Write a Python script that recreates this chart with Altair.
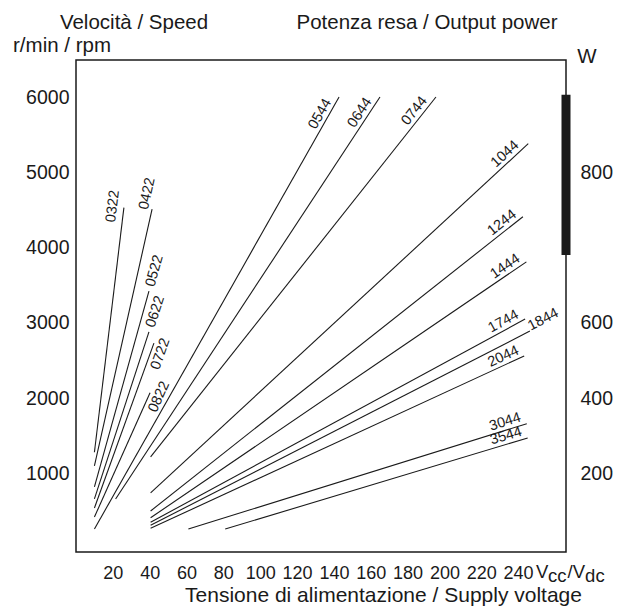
import math
import altair as alt
import pandas as pd

# ---------------- data ----------------
series = ["0322", "0422", "0522", "0622", "0722", "0822",
          "0544", "0644", "0744", "1044", "1244", "1444",
          "1744", "1844", "2044", "3044", "3544"]
v_start = [10, 10, 10, 10, 10, 10,
           10, 21.5, 40.5, 40.5, 40.5, 40.5,
           40.5, 40.5, 40.5, 61, 81]
rpm_start = [1280, 1100, 820, 660, 540, 420,
             260, 660, 1220, 740, 500, 410,
             350, 310, 270, 260, 260]
v_end = [26, 41.3, 39.6, 39.6, 42.3, 40.2,
         142.8, 165, 195.4, 245.5, 242.6, 244.5,
         243.8, 246.4, 243.3, 244.7, 245.2]
rpm_end = [4530, 4510, 3420, 2880, 2730, 2070,
           6000, 6000, 6000, 5380, 4410, 3810,
           3050, 2890, 2560, 1660, 1470]

x_ticks = [20, 40, 60, 80, 100, 120, 140, 160, 180, 200, 220, 240]
y_ticks = [1000, 2000, 3000, 4000, 5000, 6000]
power_at_rpm = [1000, 2000, 3000, 5000]
power_labels = ["200", "400", "600", "800"]
power_band = [3900, 6030]
unit_parts = ["V", "cc", "/V", "dc"]
unit_sub = [False, True, False, True]

# ---------------- layout / style ----------------
W, H = 490, 492
X_DOM = [0, 266]
Y_DOM = [-45, 6492]
FONT = "Liberation Sans"
INK = "#1a1a1a"
TICK_FS = 18
TITLE_FS = 20.5
LAB_FS = 14.5

kx = W / (X_DOM[1] - X_DOM[0])
ky = H / (Y_DOM[1] - Y_DOM[0])
angles = []
for a, b, c, d in zip(v_start, rpm_start, v_end, rpm_end):
    deg = math.degrees(math.atan2((d - b) * ky, (c - a) * kx))
    angles.append((360 - deg) % 360)

lines_df = pd.DataFrame({"series": series, "v0": v_start, "r0": rpm_start,
                         "v1": v_end, "r1": rpm_end, "ang": angles})

xs = alt.Scale(domain=X_DOM, nice=False, zero=False)
ys = alt.Scale(domain=Y_DOM, nice=False, zero=False)

lines = alt.Chart(lines_df).mark_rule(color=INK, strokeWidth=1.1).encode(
    x=alt.X("v0:Q", scale=xs, axis=alt.Axis(
        values=x_ticks, format="d", labelBaseline="alphabetic", labelPadding=26,
        labelFontSize=TICK_FS, labelFlush=False, labelOverlap=False,
        title="Tensione di alimentazione / Supply voltage",
        titleFontSize=21, titleFontWeight="normal",
        titleX=307, titleY=49, titleBaseline="alphabetic", titleAlign="center")),
    x2="v1",
    y=alt.Y("r0:Q", scale=ys, axis=alt.Axis(
        orient="left", values=y_ticks, format="d", labelPadding=7, title=None,
        labelFontSize=19.5, labelFlush=False, labelOverlap=False)),
    y2="r1",
)

# label placement styles (relative to the upper end of each line)
style_of = {
    "0322": ("center", "bottom", 0, -4),
    "0422": ("left", "bottom", -2, -1),
    "0522": ("left", "middle", 5, 0),
    "0622": ("left", "middle", 5, 0),
    "0722": ("center", "top", -8, 3),
    "0822": ("center", "top", 0, 3),
    "0544": ("right", "bottom", -8, -1),
    "0644": ("right", "bottom", -8, -1),
    "0744": ("right", "bottom", -8, -1),
    "1044": ("right", "bottom", -8, -1),
    "1244": ("right", "bottom", -4, -1),
    "1444": ("right", "bottom", -4, -1),
    "1744": ("right", "bottom", -4, -1),
    "1844": ("left", "alphabetic", 1, 0),
    "2044": ("right", "bottom", -3, -1),
    "3044": ("right", "bottom", -4, -1),
    "3544": ("right", "bottom", -4, -1),
}
groups = {}
for s in series:
    groups.setdefault(style_of[s], []).append(s)

label_layers = []
for (al, bl, dx, dy), members in groups.items():
    sub = lines_df[lines_df["series"].isin(members)]
    label_layers.append(
        alt.Chart(sub).mark_text(font=FONT, fontSize=LAB_FS, color=INK,
                                 align=al, baseline=bl, dx=dx, dy=dy).encode(
            x=alt.X("v1:Q", scale=xs, axis=None),
            y=alt.Y("r1:Q", scale=ys, axis=None),
            angle=alt.Angle("ang:Q", scale=None),
            text="series:N",
        )
    )

# right power axis + thick band
expr = "''"
for pos, lab in reversed(list(zip(power_at_rpm, power_labels))):
    expr = f"datum.value == {pos} ? '{lab}' : {expr}"

band_df = pd.DataFrame({"v": [X_DOM[1]], "r0": [power_band[0]], "r1": [power_band[1]]})
band = alt.Chart(band_df).mark_rule(color=INK, strokeWidth=9, strokeCap="butt").encode(
    x=alt.X("v:Q", scale=xs, axis=None),
    y=alt.Y("r0:Q", scale=ys, axis=alt.Axis(
        orient="right", values=power_at_rpm, labelExpr=expr, labelPadding=14,
        labelFontSize=19.5, title=None, labelFlush=False, labelOverlap=False)),
    y2="r1",
)

# unit after the "240" tick label: V_cc / V_dc
unit_dx = [18, 30, 49.5, 67]
unit_layers = []
for part, is_sub, ddx in zip(unit_parts, unit_sub, unit_dx):
    udf = pd.DataFrame({"v": [x_ticks[-1]], "t": [part]})
    unit_layers.append(
        alt.Chart(udf).mark_text(font=FONT, fontSize=TICK_FS + 0.5, color=INK,
                                 align="left", baseline="alphabetic", dx=ddx).encode(
            x=alt.X("v:Q", scale=xs, axis=None),
            y=alt.value(H + 26 + (4 if is_sub else 0)),
            text="t:N",
        )
    )

# header texts
def header(txt, px, py, align="center"):
    return alt.Chart(pd.DataFrame({"t": [txt]})).mark_text(
        font=FONT, fontSize=TITLE_FS, color=INK, align=align, baseline="alphabetic"
    ).encode(x=alt.value(px), y=alt.value(py), text="t:N")

headers = [
    header("Velocità / Speed", 58, -31),
    header("r/min / rpm", -14, -8),
    header("Potenza resa / Output power", 351, -31),
    header("W", 511, 3),
]

chart = alt.layer(lines, band, *label_layers, *unit_layers, *headers).resolve_axis(
    x="independent", y="independent"
).properties(
    width=W, height=H,
    autosize=alt.AutoSizeParams(type="none"),
    padding={"left": 68, "top": 52, "right": 47, "bottom": 56},
).configure_view(
    stroke=INK, strokeWidth=1.5
).configure_axis(
    grid=False, domain=False, ticks=False,
    labelFont=FONT, labelColor=INK, titleFont=FONT, titleColor=INK,
)

chart.save("out.html", embed_options={"renderer": "svg", "actions": False})
